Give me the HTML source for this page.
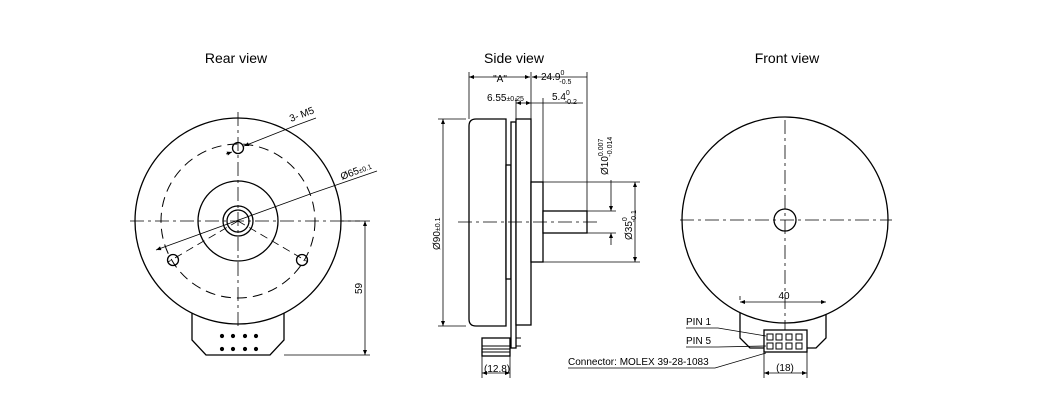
<!DOCTYPE html>
<html><head><meta charset="utf-8"><style>
html,body{margin:0;padding:0;background:#fff}
svg{display:block}
text{font-family:"Liberation Sans",sans-serif;fill:#000}
</style></head><body>
<svg width="1050" height="411" viewBox="0 0 1050 411" xmlns="http://www.w3.org/2000/svg">
<defs>
<marker id="a" viewBox="0 0 10 10" refX="10" refY="5" markerWidth="7" markerHeight="5" orient="auto-start-reverse" markerUnits="userSpaceOnUse"><path d="M0,1 L10,5 L0,9z" fill="#000"/></marker>
</defs>
<g font-size="14" text-anchor="middle">
<text x="236" y="63">Rear view</text>
<text x="514" y="63">Side view</text>
<text x="787" y="63">Front view</text>
</g>
<!-- REAR VIEW -->
<g fill="none" stroke="#000" stroke-width="1.3">
<path d="M192,306 L192,340 L206,355 L270,355 L284,340 L284,306" fill="#fff"/>
<circle cx="238" cy="221" r="103" fill="#fff"/>
<circle cx="238" cy="221" r="77" stroke-dasharray="10,6" stroke-width="1"/>
<circle cx="238" cy="221" r="40"/>
<circle cx="238" cy="221" r="15"/>
<circle cx="238" cy="221" r="11"/>
<circle cx="238" cy="148" r="5.5"/>
<circle cx="173" cy="260" r="5.5"/>
<circle cx="302" cy="260" r="5.5"/>
</g>
<g stroke="#000" stroke-width="0.8" fill="none">
<path d="M130,221 H360" stroke-dasharray="14,4,3,4"/>
<path d="M238,112 V330" stroke-dasharray="14,4,3,4"/>
<path d="M238,221 L168,262 M238,221 L308,262" stroke-dasharray="8,5"/>
<line x1="156" y1="250" x2="313" y2="193" marker-start="url(#a)"/>
<line x1="313" y1="193" x2="377" y2="171"/>
<line x1="244" y1="146" x2="297" y2="125" marker-start="url(#a)"/>
<line x1="297" y1="125" x2="316" y2="118"/>
<line x1="226" y1="154" x2="232" y2="152" marker-end="url(#a)"/>
<line x1="340" y1="221" x2="370" y2="221"/>
<line x1="284" y1="355" x2="370" y2="355"/>
<line x1="365" y1="221" x2="365" y2="355" marker-start="url(#a)" marker-end="url(#a)"/>
</g>
<g fill="#000">
<circle cx="222" cy="336" r="2.1"/><circle cx="233" cy="336" r="2.1"/><circle cx="245" cy="336" r="2.1"/><circle cx="256" cy="336" r="2.1"/>
<circle cx="222" cy="349" r="2.1"/><circle cx="233" cy="349" r="2.1"/><circle cx="245" cy="349" r="2.1"/><circle cx="256" cy="349" r="2.1"/>
</g>
<text x="291" y="122" font-size="10" transform="rotate(-21 291 122)">3- M5</text>
<text x="342" y="180" font-size="10" transform="rotate(-21 342 180)">Ø65<tspan font-size="7">±0.1</tspan></text>
<text x="362" y="294" font-size="10" transform="rotate(-90 362 294)">59</text>
<!-- SIDE VIEW -->
<g fill="#fff" stroke="#000" stroke-width="1.3">
<path d="M476,119 H506 V326 H476 Q469,326 469,319 V126 Q469,119 476,119z"/>
<rect x="506" y="165" width="5" height="114"/>
<rect x="511" y="122" width="5" height="226"/>
<rect x="516" y="119" width="15" height="206"/>
<rect x="531" y="182" width="12" height="80"/>
<rect x="543" y="211" width="44" height="22"/>
<rect x="482" y="338" width="28" height="18"/>
</g>
<g stroke="#000" stroke-width="1" fill="none">
<line x1="482" y1="346" x2="510" y2="346"/><line x1="482" y1="349" x2="510" y2="349"/><line x1="482" y1="352" x2="510" y2="352"/>
<line x1="516" y1="338" x2="521" y2="338"/><line x1="516" y1="346" x2="521" y2="346"/>
</g>
<g stroke="#000" stroke-width="0.8" fill="none">
<path d="M458,222 H598" stroke-dasharray="14,4,3,4"/>
<line x1="469" y1="119" x2="469" y2="72"/>
<line x1="531" y1="119" x2="531" y2="72"/>
<line x1="587" y1="211" x2="587" y2="72"/>
<line x1="516" y1="122" x2="516" y2="98"/>
<line x1="543" y1="182" x2="543" y2="98"/>
<line x1="469" y1="77" x2="530" y2="77" marker-start="url(#a)" marker-end="url(#a)"/>
<line x1="532" y1="77" x2="587" y2="77" marker-start="url(#a)"/>
<line x1="516" y1="103" x2="531" y2="103" marker-start="url(#a)" marker-end="url(#a)"/>
<line x1="531" y1="103" x2="583" y2="103"/>
<line x1="438" y1="119" x2="466" y2="119"/>
<line x1="438" y1="326" x2="466" y2="326"/>
<line x1="443" y1="119" x2="443" y2="326" marker-start="url(#a)" marker-end="url(#a)"/>
<line x1="543" y1="182" x2="640" y2="182"/>
<line x1="543" y1="262" x2="640" y2="262"/>
<line x1="635" y1="182" x2="635" y2="262" marker-start="url(#a)" marker-end="url(#a)"/>
<line x1="587" y1="211" x2="616" y2="211"/>
<line x1="587" y1="233" x2="616" y2="233"/>
<line x1="611" y1="180" x2="611" y2="211" marker-end="url(#a)"/>
<line x1="611" y1="233" x2="611" y2="245" marker-start="url(#a)"/>
<line x1="482" y1="356" x2="482" y2="378"/>
<line x1="510" y1="356" x2="510" y2="378"/>
<line x1="482" y1="373" x2="510" y2="373" marker-start="url(#a)" marker-end="url(#a)"/>
</g>
<g font-size="10">
<text x="500" y="82" text-anchor="middle">"A"</text>
<text x="541" y="80">24.9<tspan font-size="7" dy="-5">0</tspan><tspan font-size="7" dx="-5" dy="9">-0.5</tspan></text>
<text x="487" y="101">6.55<tspan font-size="7">±0.25</tspan></text>
<text x="552" y="100">5.4<tspan font-size="7" dy="-5">0</tspan><tspan font-size="7" dx="-5" dy="9">-0.2</tspan></text>
<text x="440" y="250" transform="rotate(-90 440 250)">Ø90<tspan font-size="7">±0.1</tspan></text>
<text x="608" y="175" transform="rotate(-90 608 175)">Ø10<tspan font-size="7" dy="-5">0.007</tspan><tspan font-size="7" dx="-18" dy="9">-0.014</tspan></text>
<text x="632" y="240" transform="rotate(-90 632 240)">Ø35<tspan font-size="7" dy="-5">0</tspan><tspan font-size="7" dx="-5" dy="9">-0.1</tspan></text>
<text x="484" y="372">(12.8)</text>
</g>
<!-- FRONT VIEW -->
<g fill="none" stroke="#000" stroke-width="1.3">
<path d="M740,296 L740,338 L750,348 L816,348 L826,338 L826,296" fill="#fff"/>
<circle cx="785" cy="220" r="103" fill="#fff"/>
<circle cx="785" cy="220" r="11"/>
<rect x="764" y="330" width="43" height="22" fill="#fff"/>
</g>
<g fill="none" stroke="#000" stroke-width="1">
<rect x="767" y="334" width="6" height="6"/><rect x="776" y="334" width="6" height="6"/><rect x="786" y="334" width="6" height="6"/><rect x="796" y="334" width="6" height="6"/>
<rect x="767" y="343" width="6" height="6"/><rect x="776" y="343" width="6" height="6"/><rect x="786" y="343" width="6" height="6"/><rect x="796" y="343" width="6" height="6"/>
</g>
<g stroke="#000" stroke-width="0.8" fill="none">
<path d="M680,220 H892" stroke-dasharray="14,4,3,4"/>
<path d="M785,120 V330" stroke-dasharray="14,4,3,4"/>
<line x1="740" y1="296" x2="740" y2="300"/>
<line x1="740" y1="302" x2="826" y2="302" marker-start="url(#a)" marker-end="url(#a)"/>
<line x1="764" y1="352" x2="764" y2="378"/>
<line x1="807" y1="352" x2="807" y2="378"/>
<line x1="764" y1="373" x2="807" y2="373" marker-start="url(#a)" marker-end="url(#a)"/>
<polyline points="686,328 718,328 766,336"/>
<polyline points="686,347 718,347 766,346"/>
<polyline points="568,368 715,368 766,353"/>
</g>
<g font-size="10">
<text x="784" y="299" text-anchor="middle">40</text>
<text x="686" y="325">PIN 1</text>
<text x="686" y="344">PIN 5</text>
<text x="568" y="365">Connector:  MOLEX 39-28-1083</text>
<text x="785" y="371" text-anchor="middle">(18)</text>
</g>
</svg>
</body></html>
